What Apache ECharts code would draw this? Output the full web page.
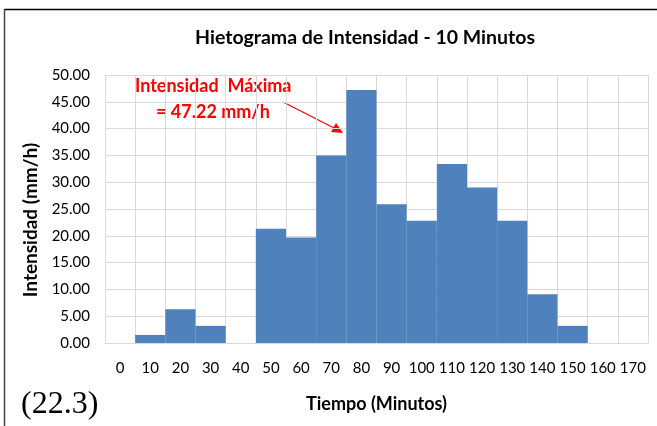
<!DOCTYPE html>
<html>
<head>
<meta charset="utf-8">
<script src="https://cdn.jsdelivr.net/npm/echarts@6/dist/echarts.min.js"></script>
<style>
  html, body { margin: 0; padding: 0; background: #fff; }
  #chart { width: 657px; height: 426px; }
</style>
</head>
<body>
<div id="chart"></div>
<script>
const categories = ['0', '10', '20', '30', '40', '50', '60', '70', '80', '90',
  '100', '110', '120', '130', '140', '150', '160', '170']
const intensidad = [0, 1.5, 6.3, 3.2, 0, 21.3, 19.7, 35.0, 47.22, 25.9,
  22.8, 33.4, 29.0, 22.8, 9.1, 3.2, 0, 0]

const font = 'Lato, "Open Sans", sans-serif'
const chart = echarts.init(document.getElementById('chart'))

chart.setOption({
  backgroundColor: '#fff',
  animation: false,
  title: {
    text: 'Hietograma de Intensidad - 10 Minutos',
    left: 360,
    top: 23,
    textAlign: 'center',
    textStyle: { fontFamily: font, fontSize: 19.5, fontWeight: 'bold', color: '#000' }
  },
  grid: { left: 105, right: 9, top: 75, bottom: 83 },
  xAxis: {
    type: 'category',
    data: categories,
    boundaryGap: true,
    name: 'Tiempo (Minutos)',
    nameLocation: 'middle',
    nameGap: 52,
    nameTextStyle: { fontFamily: font, fontSize: 18, fontWeight: 'bold', color: '#000' },
    axisLine: { show: true, lineStyle: { color: '#d9d9d9' } },
    axisTick: { show: false },
    axisLabel: { fontFamily: font, fontSize: 15, color: '#000', margin: 18, interval: 0 },
    splitLine: { show: true, interval: 0, lineStyle: { color: '#d9d9d9', width: 1 } }
  },
  yAxis: {
    type: 'value',
    min: 0,
    max: 50,
    interval: 5,
    name: 'Intensidad (mm/h)',
    nameLocation: 'middle',
    nameGap: 63,
    nameTextStyle: {
      fontFamily: font, fontSize: 19, fontWeight: 'bold', color: '#000',
      padding: [0, 22, 0, 0]
    },
    axisLine: { show: false },
    axisTick: { show: false },
    axisLabel: {
      fontFamily: font, fontSize: 15, color: '#000', margin: 15,
      formatter: v => v.toFixed(2)
    },
    splitLine: { lineStyle: { color: '#d9d9d9', width: 1 } }
  },
  series: [{
    type: 'bar',
    data: intensidad,
    barWidth: '100%',
    barGap: '0%',
    itemStyle: { color: '#4f81bd' }
  }],
  graphic: [
    { type: 'line', shape: { x1: 4.5, y1: 9.5, x2: 4.5, y2: 426 }, style: { stroke: '#444', lineWidth: 1.5 } },
    { type: 'line', shape: { x1: 4.5, y1: 9.5, x2: 657, y2: 9.5 }, style: { stroke: '#000', lineWidth: 1.5 } },
    {
      type: 'text', left: 135, top: 77,
      style: { text: 'Intensidad  Máxima', fill: '#ff0000', font: 'bold 18px ' + font }
    },
    {
      type: 'text', left: 156, top: 103,
      style: { text: '= 47.22 mm/h', fill: '#ff0000', font: 'bold 18px ' + font }
    },
    { type: 'line', shape: { x1: 283, y1: 102, x2: 336, y2: 129 }, style: { stroke: '#ff0000', lineWidth: 1.2 } },
    { type: 'polygon', shape: { points: [[343, 133], [331, 132], [336, 123]] }, style: { fill: '#ff0000' } },
    {
      type: 'text', left: 21, top: 389,
      style: { text: '(22.3)', fill: '#000', font: '32px "Liberation Serif", "DejaVu Serif", serif' }
    }
  ]
})
</script>
</body>
</html>
